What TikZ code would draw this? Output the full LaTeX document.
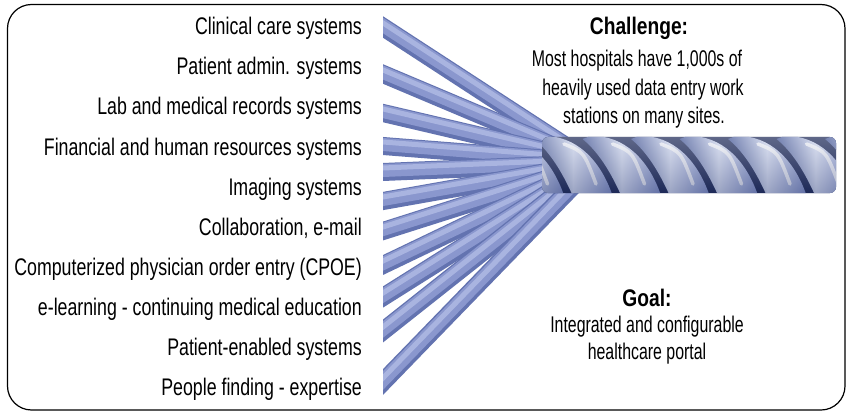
\documentclass[tikz,border=0pt]{standalone}
\usepackage{fontspec}
\setmainfont{Liberation Sans}
\newfontfamily\lblfont{Liberation Sans}[FakeStretch=0.74]
\newfontfamily\rfont{Liberation Sans}[FakeStretch=0.70]
\newfontfamily\hdfont{Liberation Sans}[FakeStretch=0.80]
\usetikzlibrary{calc}
\definecolor{sdk}{HTML}{6373B0}
\definecolor{smd}{HTML}{8A97CE}
\definecolor{slt}{HTML}{A9B4E0}
\definecolor{ropedk}{HTML}{1C2857}
\definecolor{ropemd}{HTML}{3F5294}
\definecolor{ropelt}{HTML}{D2DAF1}
\definecolor{roperim}{HTML}{7E8DC6}
\begin{document}
\begin{tikzpicture}[x=1pt,y=-1pt,
  lbl/.style={anchor=base east, inner sep=0pt, font=\lblfont\fontsize{24}{28}\selectfont},
  rtxt/.style={anchor=base, inner sep=0pt, font=\rfont\fontsize{22.7}{26}\selectfont},
  rhead/.style={anchor=base, inner sep=0pt, font=\hdfont\bfseries\fontsize{24}{28}\selectfont},
  frame/.style={draw=black, line width=1.2pt, rounded corners=24pt}]
\useasboundingbox (0,0) rectangle (851,417);
\draw[frame] (7.5,4.5) rectangle (845,410);

% labels
\node[lbl] (l1) at (362,35) {Clinical care systems};
\node[lbl] (l2) at (362,75) {Patient admin. systems};
\node[lbl] (l3) at (362,115) {Lab and medical records systems};
\node[lbl] (l4) at (362,155) {Financial and human resources systems};
\node[lbl] (l5) at (362,195) {Imaging systems};
\node[lbl] (l6) at (362,235) {Collaboration, e-mail};
\node[lbl] (l7) at (362,275) {Computerized physician order entry (CPOE)};
\node[lbl] (l8) at (362,315) {e-learning - continuing medical education};
\node[lbl] (l9) at (362,355) {Patient-enabled systems};
\node[lbl] (l10) at (362,395) {People finding - expertise};

% strands
\begin{scope}
\clip (383,0) rectangle (851,417);
\foreach \i/\ya/\yb in {1/27/152,2/74/155,3/113/158,4/146/161,5/172/164,6/201/167,7/231/170,8/265/173,9/297/176,10/331/179,11/382/184}{
  \coordinate (a\i) at (383,\ya);
  \coordinate (b\i) at (575,\yb);
  \draw[sdk, line width=18pt] ($(a\i)!-0.1!(b\i)$) -- (b\i);
  \draw[smd, line width=13pt, transform canvas={yshift=1.5pt}] ($(a\i)!-0.1!(b\i)$) -- (b\i);
  \draw[slt, line width=5pt, transform canvas={yshift=4pt}] ($(a\i)!-0.1!(b\i)$) -- (b\i);
}
\end{scope}

% rope
\begin{scope}
\clip[rounded corners=6pt] (542,137) rectangle (836,193);
\fill[ropedk] (540,130) rectangle (840,200);
\foreach \k in {-1,...,6}{
  \pgfmathsetmacro{\xx}{548+48.5*\k}
  \shade[left color=ropemd, right color=roperim, middle color=ropelt]
    (\xx-6,136) .. controls (\xx+28,135) and (\xx+52,160) .. (\xx+64,194)
    -- (\xx+24,194) .. controls (\xx+14,172) and (\xx+2,152) .. (\xx-14,139) -- cycle;
  \draw[white, opacity=0.75, line width=3.5pt, line cap=round]
    (\xx+16,144) .. controls (\xx+36,152) .. (\xx+48,184);
}
\shade[top color=white, bottom color=ropedk, opacity=0.3] (540,136) rectangle (840,194);
\end{scope}

% right texts
\node[rhead] (ch) at (639,35) {Challenge:};
\node[rtxt] (c1) at (637,67) {Most hospitals have 1,000s of};
\node[rtxt] (c2) at (643,95.5) {heavily used data entry work};
\node[rtxt] (c3) at (644,123.5) {stations on many sites.};
\node[rhead] (g0) at (647,306) {Goal:};
\node[rtxt] (g1) at (647,332) {Integrated and configurable};
\node[rtxt] (g2) at (647,359) {healthcare portal};
\end{tikzpicture}
\end{document}
